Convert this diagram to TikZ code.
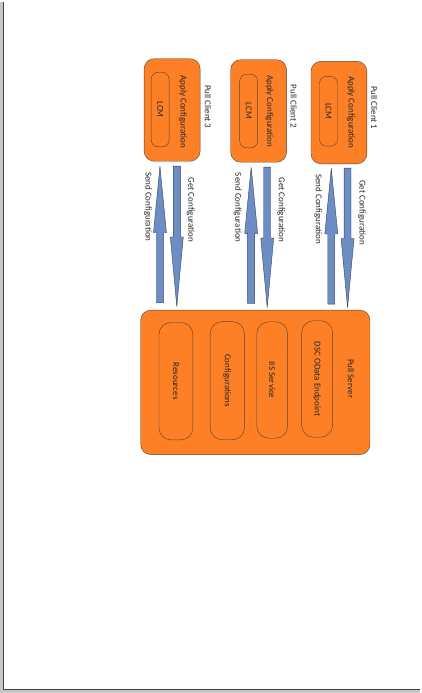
\documentclass[tikz,border=0pt]{standalone}
\usepackage{fontspec}
\setmainfont{Carlito}
\usepackage{tikz}
\definecolor{boxorange}{RGB}{253,128,38}
\definecolor{boxline}{RGB}{82,66,52}
\definecolor{arrowblue}{RGB}{108,142,196}
\definecolor{arrowline}{RGB}{48,66,96}

\begin{document}
\begin{tikzpicture}[
    x=1pt, y=-1pt,
    font=\fontsize{9}{10}\selectfont,
    client/.style={draw=boxline, fill=boxorange, rounded corners=10pt, minimum width=56pt, minimum height=102.7pt},
    server/.style={draw=boxline, fill=boxorange, rounded corners=10pt, minimum width=229.7pt, minimum height=144.7pt},
    lcm box/.style={draw=boxline, rounded corners=7pt, minimum width=18pt, inner sep=0pt},
    service/.style={draw=boxline, rounded corners=12pt, inner sep=0pt},
    vtext/.style={rotate=-90, inner sep=0pt, text=black!85},
    flow arrow/.style={draw=arrowline, fill=arrowblue, line join=miter}
]

    % Page frame with shadow
    \draw[gray!45, line width=3pt] (1.5,0) -- (1.5,691.5) -- (421,691.5);
    \draw[black!75, line width=1pt] (3.7,0) -- (3.7,689.3) -- (421,689.3);
    \useasboundingbox (0,0) rectangle (421,693);

    % Pull clients
    \node[client] (c3) at (172.5,108.7) {};
    \node[lcm box, minimum height=74.7pt] (lcm3) at (160.5,108.3) {};
    \node[vtext] at (lcm3) {LCM};
    \node[vtext] (apply3) at (183.3,110.5) {Apply Configuration};
    \node[vtext] (pc3) at (208.3,105.5) {Pull Client 3};

    \node[client] (c2) at (259.2,109.7) {};
    \node[lcm box, minimum height=73.7pt] (lcm2) at (249.2,109.8) {};
    \node[vtext] at (lcm2) {LCM};
    \node[vtext] (apply2) at (270,110) {Apply Configuration};
    \node[vtext] (pc2) at (294.3,105) {Pull Client 2};

    \node[client] (c1) at (339.7,111.3) {};
    \node[lcm box, minimum height=70pt] (lcm1) at (329.2,110) {};
    \node[vtext] at (lcm1) {LCM};
    \node[vtext] (apply1) at (351.7,111) {Apply Configuration};
    \node[vtext] (pc1) at (375,106.5) {Pull Client 1};

    % Pull server
    \node[server] (srv) at (255.9,381.7) {};
    \node[service, minimum width=34pt, minimum height=117.6pt] (res) at (176.3,380.5) {};
    \node[vtext] at (res) {Resources};
    \node[service, minimum width=34.3pt, minimum height=118.3pt] (conf) at (227.8,380) {};
    \node[vtext] at (conf) {Configurations};
    \node[service, minimum width=31pt, minimum height=116.7pt] (iis) at (272.8,379.3) {};
    \node[vtext] at (iis) {IIS Service};
    \node[service, minimum width=31pt, minimum height=116.7pt] (dsc) at (317.8,378.3) {};
    \node[vtext] at (dsc) {DSC OData Endpoint};
    \node[vtext] (ps) at (351.7,378) {Pull Server};

    % Send / get block arrows: x / tail / head base / tip
    \foreach \x/\ya/\yb/\yc in {160.3/301.7/231.7/165, 177.2/165/236/305.7,
                                251.7/302.7/232.3/166, 267.8/166/237/306.7,
                                332/303.3/233/167,     348.3/167/237.5/306.7}
        \draw[flow arrow] (\x-3.5,\ya) -- (\x-3.5,\yb) -- (\x-6.5,\yb) -- (\x,\yc)
            -- (\x+6.5,\yb) -- (\x+3.5,\yb) -- (\x+3.5,\ya) -- cycle;

    % Arrow labels
    \node[vtext] (send3) at (148.3,205.8) {Send Configuration};
    \node[vtext] (get3) at (191,209) {Get Configuration};
    \node[vtext] (send2) at (238.3,206.7) {Send Configuration};
    \node[vtext] (get2) at (281.7,209) {Get Configuration};
    \node[vtext] (send1) at (319,208) {Send Configuration};
    \node[vtext] (get1) at (362.7,211.5) {Get Configuration};

\end{tikzpicture}
\end{document}
